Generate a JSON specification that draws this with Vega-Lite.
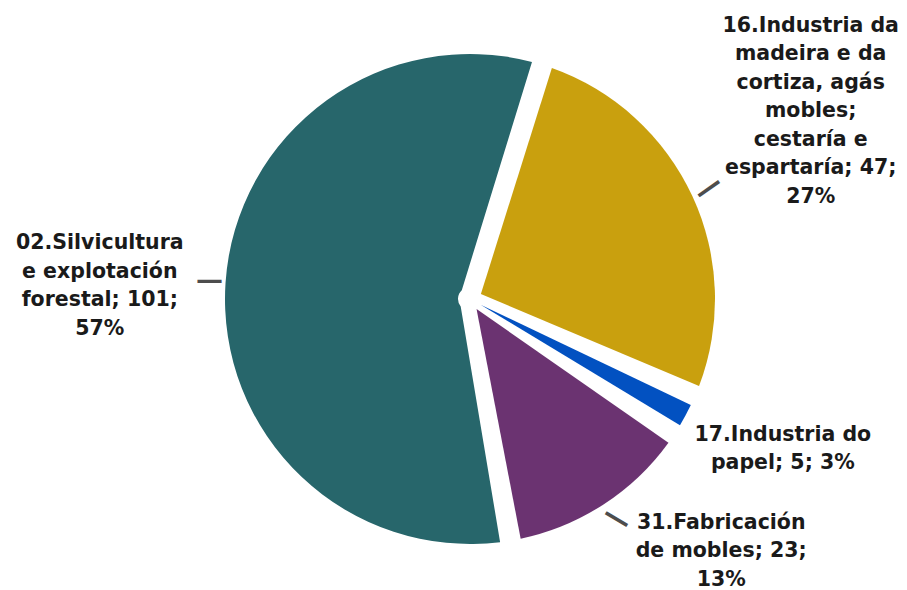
{
  "$schema": "https://vega.github.io/schema/vega-lite/v6.json",
  "width": 874,
  "height": 582,
  "autosize": {"type": "none"},
  "padding": {"left": 33, "top": 8, "right": 0, "bottom": 0},
  "background": "white",
  "config": {"view": {"stroke": null}},
  "data": {
    "values": [
      {"sector": "02.Silvicultura e explotación forestal", "value": 101, "label": "02.Silvicultura\ne explotación\nforestal; 101;\n57%"},
      {"sector": "16.Industria da madeira e da cortiza, agás mobles; cestaría e espartaría", "value": 47, "label": "16.Industria da\nmadeira e da\ncortiza, agás\nmobles;\ncestaría e\nespartaría; 47;\n27%"},
      {"sector": "17.Industria do papel", "value": 5, "label": "17.Industria do\npapel; 5; 3%"},
      {"sector": "31.Fabricación de mobles", "value": 23, "label": "31.Fabricación\nde mobles; 23;\n13%"}
    ]
  },
  "encoding": {
    "theta": {"field": "value", "type": "quantitative", "stack": true, "scale": {"range": [2.9758, 9.259]}},
    "order": {"field": "sector", "type": "ordinal", "sort": "ascending"}
  },
  "layer": [
    {
      "mark": {"type": "arc", "outerRadius": 245, "innerRadius": 12, "padAngle": 0.085},
      "encoding": {
        "color": {
          "field": "sector",
          "type": "nominal",
          "scale": {
            "domain": ["02.Silvicultura e explotación forestal", "16.Industria da madeira e da cortiza, agás mobles; cestaría e espartaría", "17.Industria do papel", "31.Fabricación de mobles"],
            "range": ["#27666B", "#C9A00E", "#0251C1", "#6B3371"]
          },
          "legend": null
        }
      }
    },
    {
      "mark": {"type": "text", "radius": 261, "dx": 0, "dy": -1, "angle": 0, "font": "DejaVu Sans", "fontSize": 27, "fontWeight": "bold", "align": "center", "baseline": "middle", "fill": "#4d4d4d"},
      "encoding": {
        "text": {"condition": {"test": "datum.value === 101", "value": "—"}, "value": ""}
      }
    },
    {
      "mark": {"type": "text", "radius": 263, "dx": 0, "dy": 0, "angle": -35, "font": "DejaVu Sans", "fontSize": 28, "fontWeight": "bold", "align": "center", "baseline": "middle", "fill": "#4d4d4d"},
      "encoding": {
        "text": {"condition": {"test": "datum.value === 47", "value": "—"}, "value": ""}
      }
    },
    {
      "mark": {"type": "text", "radius": 258, "dx": 7, "dy": 0, "angle": 31, "font": "DejaVu Sans", "fontSize": 28, "fontWeight": "bold", "align": "center", "baseline": "middle", "fill": "#4d4d4d"},
      "encoding": {
        "text": {"condition": {"test": "datum.value === 23", "value": "—"}, "value": ""}
      }
    },
    {
      "mark": {"type": "text", "radius": 360, "dx": -11, "dy": -32, "font": "DejaVu Sans", "fontSize": 20.5, "fontWeight": "bold", "lineHeight": 28.5, "lineBreak": "\n", "align": "center", "baseline": "middle", "fill": "#1a1a1a"},
      "encoding": {
        "text": {"condition": {"test": "datum.value === 101", "field": "label"}, "value": ""}
      }
    },
    {
      "mark": {"type": "text", "radius": 360, "dx": 14, "dy": -122, "font": "DejaVu Sans", "fontSize": 20.5, "fontWeight": "bold", "lineHeight": 28.5, "lineBreak": "\n", "align": "center", "baseline": "middle", "fill": "#1a1a1a"},
      "encoding": {
        "text": {"condition": {"test": "datum.value === 47", "field": "label"}, "value": ""}
      }
    },
    {
      "mark": {"type": "text", "radius": 360, "dx": -4, "dy": -35, "font": "DejaVu Sans", "fontSize": 20.5, "fontWeight": "bold", "lineHeight": 28.5, "lineBreak": "\n", "align": "center", "baseline": "middle", "fill": "#1a1a1a"},
      "encoding": {
        "text": {"condition": {"test": "datum.value === 5", "field": "label"}, "value": ""}
      }
    },
    {
      "mark": {"type": "text", "radius": 360, "dx": 55, "dy": -78, "font": "DejaVu Sans", "fontSize": 20.5, "fontWeight": "bold", "lineHeight": 28.5, "lineBreak": "\n", "align": "center", "baseline": "middle", "fill": "#1a1a1a"},
      "encoding": {
        "text": {"condition": {"test": "datum.value === 23", "field": "label"}, "value": ""}
      }
    }
  ]
}
